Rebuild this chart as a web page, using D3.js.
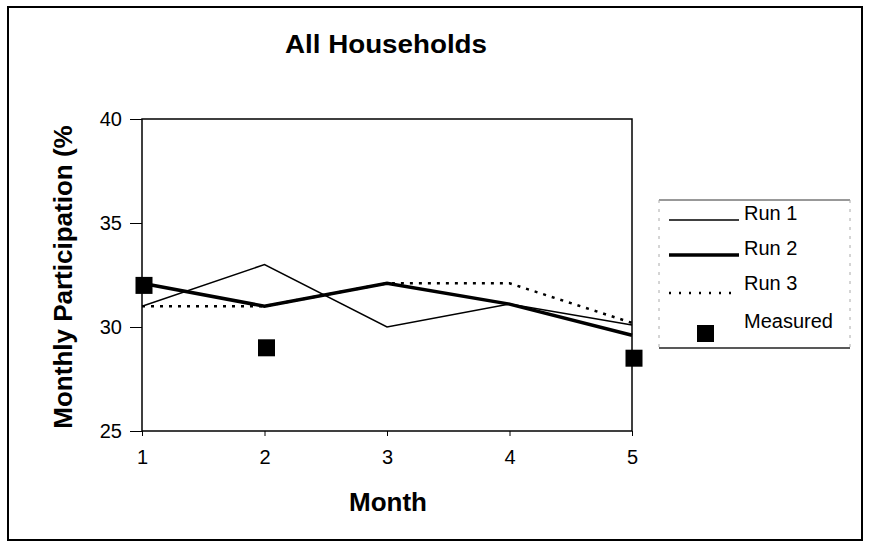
<!DOCTYPE html>
<html><head><meta charset="utf-8">
<script src="https://cdn.jsdelivr.net/npm/d3@7"></script>
<style>body{margin:0;background:#fff}svg{display:block}text{font-family:Arial,"Liberation Sans",sans-serif;fill:#000}</style>
</head><body><svg id="c" width="870" height="548"></svg>
<script>
const months = [1, 2, 3, 4, 5];
const run1 = [31, 33, 30, 31.1, 30.1];
const run2 = [32.1, 31, 32.1, 31.1, 29.6];
const run3 = [31, 31, 32.1, 32.1, 30.2];
const measuredMonths = [1, 2, 5];
const measuredValues = [32, 29, 28.5];
const yTicks = [25, 30, 35, 40];
const seriesNames = ["Run 1", "Run 2", "Run 3", "Measured"];
const title = "All Households";
const xTitle = "Month";
const yTitle = "Monthly Participation (%";

const svg = d3.select("#c");
const L = 142, R = 632, T = 119, B = 431;
const x = d3.scaleLinear().domain([1, 5]).range([L, R]);
const y = d3.scaleLinear().domain([25, 40]).range([B, T]);

// outer frame
svg.append("rect").attr("x", 8).attr("y", 7).attr("width", 854).attr("height", 533)
  .attr("fill", "none").attr("stroke", "#000").attr("stroke-width", 2);

// title
svg.append("text").attr("x", 386).attr("y", 53).attr("text-anchor", "middle")
  .attr("font-size", 25).attr("font-weight", "bold")
  .attr("textLength", 202).attr("lengthAdjust", "spacingAndGlyphs").text(title);

// plot frame
svg.append("rect").attr("x", L).attr("y", T).attr("width", R - L).attr("height", B - T)
  .attr("fill", "none").attr("stroke", "#000").attr("stroke-width", 1.5);

// y axis
const ya = svg.append("g").attr("transform", `translate(${L},0)`)
  .call(d3.axisLeft(y).tickValues(yTicks).tickSize(12).tickPadding(8).tickSizeOuter(0));
ya.select(".domain").remove();
ya.selectAll("text").attr("font-size", 20).attr("font-family", "Arial, 'Liberation Sans', sans-serif").attr("fill", "#000");
ya.selectAll("line").attr("stroke", "#000");

// x axis
const xa = svg.append("g").attr("transform", `translate(0,${B})`)
  .call(d3.axisBottom(x).tickValues(months).tickFormat(d3.format("d")).tickSize(5).tickPadding(14).tickSizeOuter(0));
xa.select(".domain").remove();
xa.selectAll("text").attr("font-size", 20).attr("font-family", "Arial, 'Liberation Sans', sans-serif").attr("fill", "#000");
xa.selectAll("line").attr("stroke", "#000");

// axis titles
svg.append("text").attr("x", 388).attr("y", 511).attr("text-anchor", "middle")
  .attr("font-size", 26).attr("font-weight", "bold").text(xTitle);
svg.append("text").attr("transform", "translate(72,277) rotate(-90)").attr("text-anchor", "middle")
  .attr("font-size", 26).attr("font-weight", "bold").text(yTitle);

// lines
const line = d3.line().x((d, i) => x(months[i])).y(d => y(d));
const styles = [
  {w: 1.5, dash: null},
  {w: 3.5, dash: null},
  {w: 2.5, dash: "3,6"}
];
[run1, run2, run3].forEach((s, i) => {
  svg.append("path").datum(s).attr("d", line).attr("fill", "none")
    .attr("stroke", "#000").attr("stroke-width", styles[i].w)
    .attr("stroke-dasharray", styles[i].dash);
});

// measured markers
const ms = 17;
svg.append("g").selectAll("rect").data(measuredValues).join("rect")
  .attr("x", (d, i) => x(measuredMonths[i]) - ms / 2 + 2)
  .attr("y", d => y(d) - ms / 2)
  .attr("width", ms).attr("height", ms).attr("fill", "#000");

// legend
const lg = svg.append("g");
lg.append("line").attr("x1", 659).attr("x2", 850).attr("y1", 200).attr("y2", 200).attr("stroke", "#333").attr("stroke-width", 1);
lg.append("line").attr("x1", 659).attr("x2", 850).attr("y1", 348).attr("y2", 348).attr("stroke", "#222").attr("stroke-width", 1.5);
lg.append("line").attr("x1", 659).attr("x2", 659).attr("y1", 200).attr("y2", 348).attr("stroke", "#aaa").attr("stroke-dasharray", "3,6");
lg.append("line").attr("x1", 850).attr("x2", 850).attr("y1", 200).attr("y2", 348).attr("stroke", "#aaa").attr("stroke-dasharray", "3,6");
const lgY = [220, 255, 290, 328];
seriesNames.forEach((n, i) => {
  if (i < 3) {
    lg.append("line").attr("x1", 669).attr("x2", 739)
      .attr("y1", lgY[i] + (i === 2 ? 3 : 0)).attr("y2", lgY[i] + (i === 2 ? 3 : 0))
      .attr("stroke", "#000").attr("stroke-width", styles[i].w)
      .attr("stroke-dasharray", i === 2 ? "2,8" : null);
  } else {
    lg.append("rect").attr("x", 697).attr("y", 325).attr("width", ms).attr("height", ms).attr("fill", "#000");
  }
  lg.append("text").attr("x", 744).attr("y", lgY[i]).attr("font-size", 20).text(n);
});
</script></body></html>
